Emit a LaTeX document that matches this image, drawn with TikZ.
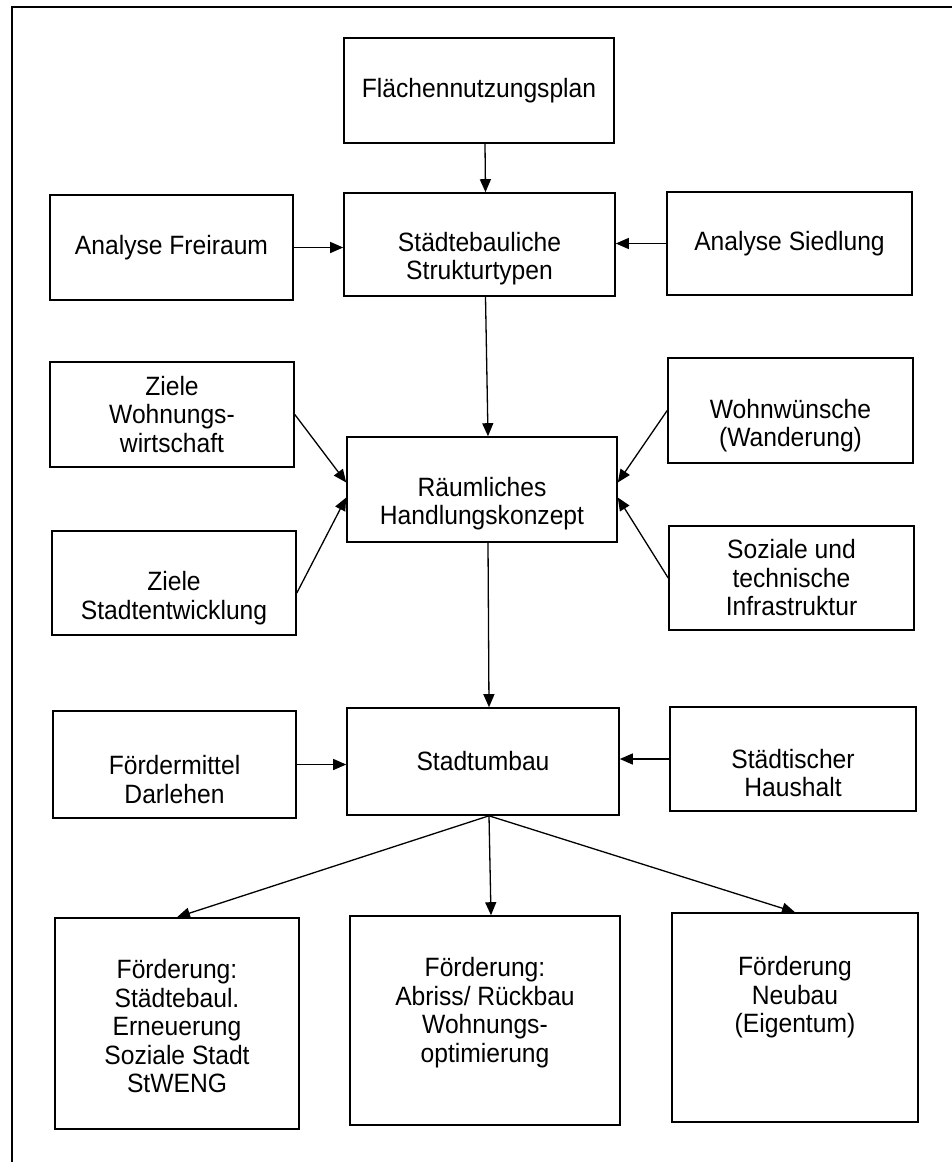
\documentclass[tikz,border=0pt]{standalone}
\usepackage{fontspec}
\setmainfont[FakeStretch=0.93]{Liberation Sans}
\usetikzlibrary{arrows.meta}
\begin{document}
\begin{tikzpicture}[x=1pt,y=-1pt,
  box/.style 2 args={draw, line width=1.6pt, minimum width=#1, minimum height=#2, inner sep=0pt},
  txt/.style={align=center, inner sep=0pt, font=\fontsize{26.5}{28.5}\selectfont},
  arr/.style={line width=1.3pt, -{Triangle[length=13pt,width=11pt]}}]
\useasboundingbox (0,0) rectangle (952,1162);
% frame: top and left rules
\draw[line width=2.5pt, line join=miter] (952,7) -- (12,7) -- (12,1162);

% boxes
\node[box={270pt}{105pt}] (fnp) at (479,90.5) {};
\node[box={243pt}{105pt}] (afr) at (171.5,247.5) {};
\node[box={271pt}{103pt}] (sst) at (479.5,244.5) {};
\node[box={245pt}{103pt}] (asi) at (789.5,243.5) {};
\node[box={244pt}{105pt}] (zww) at (172,414.5) {};
\node[box={270pt}{105pt}] (rhk) at (482,489.5) {};
\node[box={245pt}{105pt}] (www) at (790.5,410.5) {};
\node[box={244pt}{104pt}] (zst) at (174,583) {};
\node[box={245pt}{104pt}] (sti) at (791.5,578) {};
\node[box={243pt}{107pt}] (fmd) at (174.5,764.5) {};
\node[box={272pt}{107pt}] (stu) at (483,761.5) {};
\node[box={246pt}{104pt}] (sha) at (793,759) {};
\node[box={244pt}{211pt}] (fl) at (177,1023.5) {};
\node[box={270pt}{209pt}] (fm) at (485,1020.5) {};
\node[box={246pt}{209pt}] (fr) at (795,1017.5) {};

% labels
\node[txt] at (fnp.center) {Flächennutzungsplan};
\node[txt] at (afr.center) {Analyse Freiraum};
\node[txt] at ([yshift=-14pt]sst.center) {Städtebauliche\\Strukturtypen};
\node[txt] at (asi.center) {Analyse Siedlung};
\node[txt] at (zww.center) {Ziele\\Wohnungs-\\wirtschaft};
\node[txt] at ([yshift=-14pt]rhk.center) {Räumliches\\Handlungskonzept};
\node[txt] at ([yshift=-15pt]www.center) {Wohnwünsche\\(Wanderung)};
\node[txt] at ([yshift=-15pt]zst.center) {Ziele\\Stadtentwicklung};
\node[txt] at (sti.center) {Soziale und\\technische\\Infrastruktur};
\node[txt] at ([yshift=-15pt]fmd.center) {Fördermittel\\Darlehen};
\node[txt] at (stu.center) {Stadtumbau};
\node[txt] at ([yshift=-14pt]sha.center) {Städtischer\\Haushalt};
\node[txt, anchor=north] at ([yshift=-42pt]fl.north) {Förderung:\\Städtebaul.\\Erneuerung\\Soziale Stadt\\StWENG};
\node[txt, anchor=north] at ([yshift=-42pt]fm.north) {Förderung:\\Abriss/ Rückbau\\Wohnungs-\\optimierung};
\node[txt, anchor=north] at ([yshift=-44pt]fr.north) {Förderung\\Neubau\\(Eigentum)};

% connectors
\draw[arr] ([xshift=6pt]fnp.south) -- ([xshift=6pt]sst.north);
\draw[arr] (afr.east) -- (afr.east -| sst.west);
\draw[arr] (asi.west) -- (asi.west -| sst.east);
\draw[arr] ([xshift=6pt]sst.south) -- ([xshift=6pt]rhk.north);
\draw[arr] (zww.east) -- ([yshift=7pt]rhk.west);
\draw[arr] ([yshift=-10pt]zst.east) -- ([yshift=-8pt]rhk.west);
\draw[arr] (www.west) -- ([yshift=7pt]rhk.east);
\draw[arr] (sti.west) -- ([yshift=-8pt]rhk.east);
\draw[arr] ([xshift=6pt]rhk.south) -- ([xshift=6pt]stu.north);
\draw[arr] (fmd.east) -- (fmd.east -| stu.west);
\draw[arr] (sha.west) -- (sha.west -| stu.east);
\draw[arr] ([xshift=6pt]stu.south) -- (fl.north);
\draw[arr] ([xshift=6pt]stu.south) -- ([xshift=6pt]fm.north);
\draw[arr] ([xshift=6pt]stu.south) -- (fr.north);
\end{tikzpicture}
\end{document}
